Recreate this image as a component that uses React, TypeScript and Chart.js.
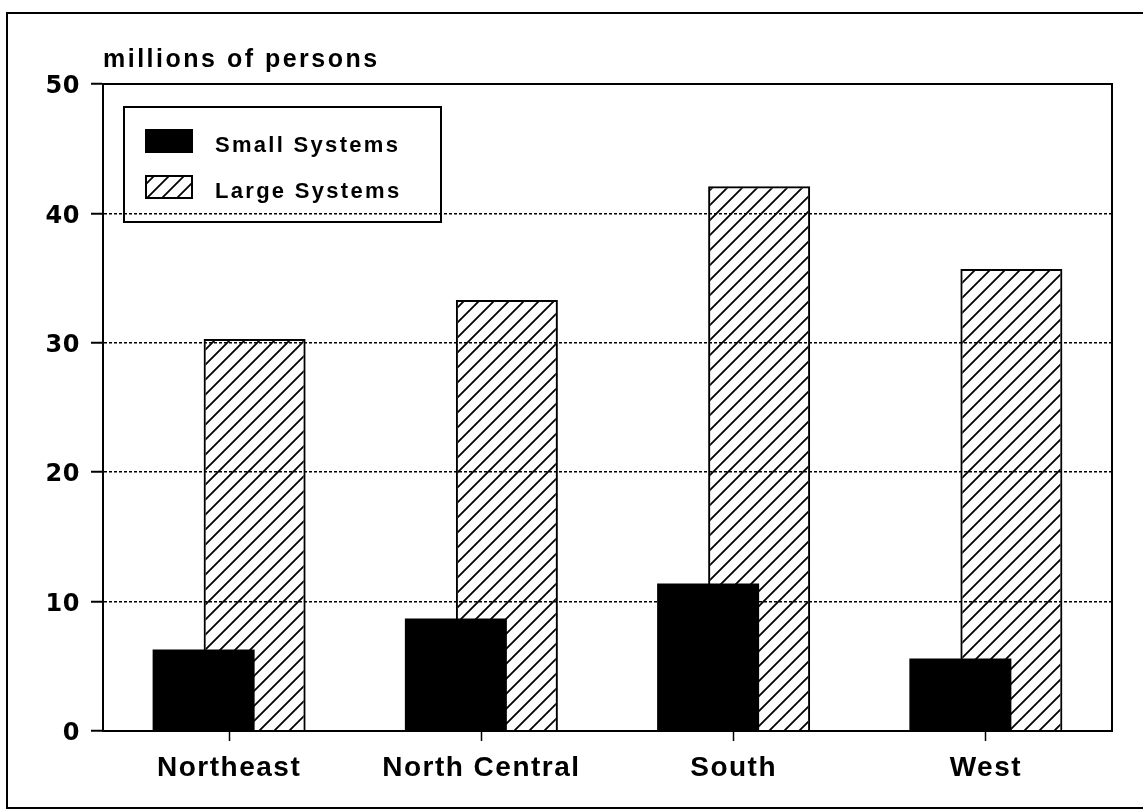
import React, { useEffect, useRef } from 'react';
import { Chart, registerables } from 'chart.js';

Chart.register(...registerables);

// ---- data ----
const categories = ['Northeast', 'North Central', 'South', 'West'];
const smallSystems = [6.3, 8.7, 11.4, 5.6];
const largeSystems = [30.3, 33.3, 42.1, 35.7];
const seriesLabels = ['Small Systems', 'Large Systems'];
const yAxisTitle = 'millions of persons';
const yMin = 0;
const yMax = 50;
const yStep = 10;

const FONT = '"Liberation Sans", Arial, Helvetica, sans-serif';
const TICK_FONT = '"DejaVu Sans", "Liberation Sans", Arial, sans-serif';

function makeHatch(): CanvasPattern | string {
  const t = document.createElement('canvas');
  t.width = 15;
  t.height = 15;
  const c = t.getContext('2d');
  if (!c) return '#fff';
  c.strokeStyle = '#000';
  c.lineWidth = 1.8;
  c.beginPath();
  c.moveTo(-2, 17);
  c.lineTo(17, -2);
  c.moveTo(-2, 2);
  c.lineTo(2, -2);
  c.moveTo(13, 17);
  c.lineTo(17, 13);
  c.stroke();
  return c.createPattern(t, 'repeat') || '#fff';
}

function withSpacing(obj: any, method: string, spacing: string) {
  if (!obj || obj['__sp_' + method]) return;
  const orig = obj[method];
  obj[method] = function (...args: any[]) {
    const ctx = this.ctx;
    const prev = ctx.letterSpacing;
    ctx.letterSpacing = spacing;
    try {
      return orig.apply(this, args);
    } finally {
      ctx.letterSpacing = prev;
    }
  };
  obj['__sp_' + method] = true;
}

const spacingPlugin = {
  id: 'letterSpacing',
  beforeDraw(chart: any) {
    withSpacing(chart.scales.x, 'drawLabels', '1.5px');
    withSpacing(chart.scales.y, 'drawLabels', '0.5px');
    withSpacing(chart.titleBlock, 'draw', '2.5px');
  },
};

const framePlugin = {
  id: 'frames',
  afterDraw(chart: any) {
    const { ctx, chartArea: a } = chart;
    ctx.save();
    ctx.strokeStyle = '#000';
    ctx.lineWidth = 2;
    ctx.strokeRect(a.left, a.top, a.right - a.left, a.bottom - a.top);
    ctx.strokeRect(7, 13, 1160, 795);
    ctx.restore();
  },
};

const legendBoxPlugin = {
  id: 'legendBox',
  afterDraw(chart: any) {
    const { ctx, chartArea: a } = chart;
    const bx = a.left + 21;
    const by = a.top + 23;
    const bw = 317;
    const bh = 115;
    ctx.save();
    ctx.letterSpacing = '2.3px';
    ctx.strokeStyle = '#000';
    ctx.lineWidth = 2;
    ctx.strokeRect(bx, by, bw, bh);
    chart.data.datasets.forEach((ds: any, i: number) => {
      const sx = bx + 21;
      const sy = by + 22 + i * 46;
      const sw = 48;
      const sh = 24;
      ctx.fillStyle = ds.backgroundColor;
      ctx.fillRect(sx, sy, sw, sh);
      if (ds.borderWidth) {
        ctx.lineWidth = 2;
        ctx.strokeStyle = ds.borderColor;
        ctx.strokeRect(sx + 1, sy + 1, sw - 2, sh - 2);
      }
      ctx.fillStyle = '#000';
      ctx.font = `bold 22px ${FONT}`;
      ctx.textAlign = 'left';
      ctx.textBaseline = 'alphabetic';
      ctx.fillText(ds.label, bx + 91, sy + 23);
    });
    ctx.restore();
  },
};

export default function App() {
  const ref = useRef<HTMLCanvasElement>(null);

  useEffect(() => {
    document.body.style.margin = '0';
    const canvas = ref.current;
    if (!canvas) return;
    const hatch = makeHatch();

    const chart = new Chart(canvas, {
      type: 'bar',
      data: {
        labels: categories,
        datasets: [
          {
            label: seriesLabels[0],
            data: smallSystems,
            backgroundColor: '#000',
            borderWidth: 0,
          },
          {
            label: seriesLabels[1],
            data: largeSystems,
            backgroundColor: hatch as any,
            borderColor: '#000',
            borderWidth: 2,
          },
        ],
      },
      options: {
        responsive: false,
        animation: false,
        devicePixelRatio: 1,
        barPercentage: 2.0,
        categoryPercentage: 0.4044,
        layout: { padding: { top: 40, left: 0, right: 31, bottom: 0 } },
        plugins: {
          legend: { display: false },
          tooltip: { enabled: false },
          title: {
            display: true,
            text: yAxisTitle,
            align: 'start',
            fullSize: false,
            color: '#000',
            font: { family: FONT, size: 25, weight: 'bold' },
            padding: { top: 5, bottom: 9 },
          },
        },
        scales: {
          x: {
            afterFit(scale: any) {
              scale.height = 79;
            },
            grid: {
              display: true,
              drawOnChartArea: false,
              drawTicks: true,
              offset: false,
              tickLength: 10,
              tickColor: '#000',
              tickWidth: 1.5,
            },
            border: { display: true, color: '#000', width: 2 },
            ticks: {
              color: '#000',
              padding: 10,
              maxRotation: 0,
              font: { family: FONT, size: 28, weight: 'bold' },
            },
          },
          y: {
            min: yMin,
            max: yMax,
            afterFit(scale: any) {
              scale.width = 103;
            },
            grid: {
              color: (c: any) =>
                c.tick && (c.tick.value === yMin || c.tick.value === yMax)
                  ? 'rgba(0,0,0,0)'
                  : '#000',
              lineWidth: 1.5,
              drawTicks: true,
              tickLength: 12,
              tickColor: '#000',
              tickWidth: 2,
              tickBorderDash: [],
            },
            border: { display: true, color: '#000', width: 2, dash: [3, 2] },
            ticks: {
              stepSize: yStep,
              color: '#000',
              padding: 11,
              labelOffset: 3,
              font: { family: TICK_FONT, size: 24, weight: 'bold' },
            },
          },
        },
      } as any,
      plugins: [spacingPlugin, framePlugin, legendBoxPlugin],
    });

    return () => chart.destroy();
  }, []);

  return (
    <canvas
      ref={ref}
      width={1143}
      height={810}
      style={{ display: 'block', width: 1143, height: 810 }}
    />
  );
}
